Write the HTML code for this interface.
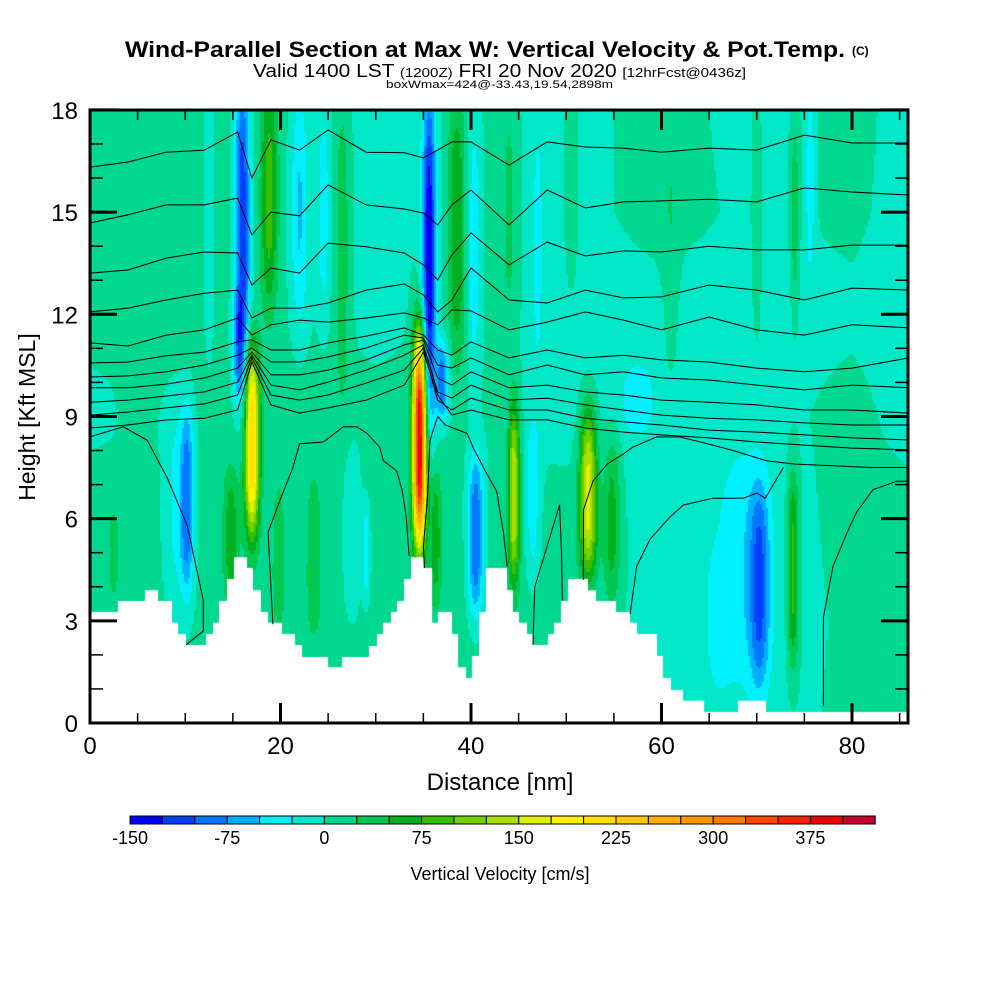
<!DOCTYPE html>
<html><head><meta charset="utf-8"><style>
html,body{margin:0;padding:0;background:#fff;width:1000px;height:1000px;overflow:hidden}
#wrap{position:relative;width:1000px;height:1000px}
canvas{position:absolute;left:90px;top:110px}
svg{position:absolute;left:0;top:0}
text{font-family:"Liberation Sans",sans-serif}
</style></head><body>
<div id="wrap">
<canvas id="field" width="818" height="613"></canvas>
<svg id="svg" width="1000" height="1000">
<text x="125" y="57" textLength="720" lengthAdjust="spacingAndGlyphs" font-size="22" font-weight="bold">Wind-Parallel Section at Max W: Vertical Velocity &amp; Pot.Temp.</text>
<text x="852" y="55" font-size="12" font-weight="bold">(C)</text>
<text x="253" y="77" textLength="493" lengthAdjust="spacingAndGlyphs" font-size="18">Valid 1400 LST <tspan font-size="13">(1200Z)</tspan> FRI 20 Nov 2020 <tspan font-size="13">[12hrFcst@0436z]</tspan></text>
<text x="386" y="88" textLength="227" lengthAdjust="spacingAndGlyphs" font-size="11">boxWmax=424@-33.43,19.54,2898m</text>
<g id="contours" fill="none" stroke="#000" stroke-width="1"></g>
<g id="ticks" stroke="#000"></g>
<rect x="90" y="110" width="818" height="613" fill="none" stroke="#000" stroke-width="3"/>
<g id="labels" font-size="24"></g>
<text x="500" y="790" font-size="24" text-anchor="middle">Distance [nm]</text>
<text transform="translate(35,417) rotate(-90)" font-size="23" text-anchor="middle">Height [Kft MSL]</text>
<g id="cbar"></g>
<text x="500" y="880" font-size="18" text-anchor="middle">Vertical Velocity [cm/s]</text>
</svg>
</div>
<script>
// ---- data ----
const baseX=[0,10,20,30,40,50,60,70,80,86];
const baseH=[18,15,12,9,6,3,0];
const baseV=[
[8,8,5,-8,5,-8,8,-8,8,-10],
[10,10,5,-5,5,-8,8,-5,5,-10],
[5,8,5,-5,5,-8,-8,-8,-5,-10],
[-5,5,10,5,5,-10,-10,-10,8,-10],
[10,5,10,10,5,10,-10,-15,8,10],
[10,5,15,10,10,15,-10,-15,5,10],
[10,5,10,10,10,10,-10,-10,5,10]];
const plumeX =[17.0,34.6,16.0,15.6,18.8,22.0,26.5,24.5,35.6,37.0,38.5,40.3,10.2,9.0,14.8,19.8,23.5,27.5,29,36.3,40.5,44.5,46.5,52.3,54.8,57.5,70.3,68.5,73.8,66,2.5,50.5,61,70,75.6,74,44,47,4,12.5];
const plumeW =[0.75,0.7,0.8,0.6,0.9,0.9,0.8,0.6,0.7,0.7,0.9,0.7,0.7,1.2,0.8,0.6,0.8,0.9,0.4,0.6,0.8,0.6,0.8,0.9,0.9,1.5,1.0,2.5,0.6,1.2,1.0,0.6,0.8,0.5,0.5,0.4,0.8,0.6,1,0.5];
const plumeHc=[8.3,8.3,14.5,11,15.5,15,14,15,13.5,10,14.5,14,6.5,6.5,5.5,5,5,5.5,5,5.5,5.5,6.8,6.5,6.8,6,9.5,4,4.5,4.5,3,5,16,14,15,16,15,15,14,13,15];
const plumeHw=[2.8,3.1,4.8,1.5,3.5,3.5,5,3,5,1.2,4,4,2.8,3,2,2,2.5,2.5,1.5,2,2.4,2.7,2.5,2.5,2.5,1,3,3.5,2.9,2,2,3,4,4,3,3,4,4,5,4];
const plumeV =[220,400,-125,-60,80,-55,40,-40,-150,-90,70,-45,-90,-35,60,35,30,-35,-50,60,-105,140,-45,160,60,-40,-85,-30,90,-25,20,30,20,20,-40,40,30,-30,10,-30];
const terrainX=[0,2.94,5.77,7.14,8.61,9.24,10.08,12.18,12.91,13.54,14.38,15.12,16.48,17.11,17.95,18.69,20.16,21.52,22.26,24.99,26.46,29.29,30.13,30.76,31.6,32.23,32.97,33.7,35.07,35.91,36.54,38.01,38.64,39.48,40.1,40.84,41.57,43.78,44.41,45.04,45.88,46.51,48.08,48.71,49.45,50.18,52.28,53.12,55.22,56.69,57.43,59.53,60.16,61.0,62.26,64.47,68.03,70.97];
const terrainH=[3.26,3.58,3.9,3.58,2.94,2.61,2.29,2.61,2.94,3.58,4.23,4.87,4.55,3.9,3.26,2.94,2.61,2.29,1.94,1.64,1.94,2.26,2.61,2.94,3.26,3.58,4.23,4.87,4.55,2.94,3.26,2.61,1.64,1.32,1.97,3.26,4.55,3.9,3.26,2.94,2.61,2.29,2.61,2.94,3.58,4.23,3.9,3.58,3.26,2.94,2.61,1.97,1.32,0.97,0.65,0.32,0.65,0.32];
const thetaX=[0,4,8,12,15.5,17,19,22,25,29,33,35,36.5,38,40,44,48,52,56,60,65,70,75,80,86];
const theta1=[16.32,16.47,16.76,16.82,17.35,16.0,17.12,16.82,17.41,16.76,16.74,16.59,16.82,17.06,17.06,16.38,17.06,16.91,16.88,16.76,16.88,16.82,17.26,17.03,17.03];
const theta2=[14.68,14.92,15.21,15.21,15.41,14.33,15.0,14.89,15.8,15.21,15.09,14.97,14.62,15.21,15.65,14.62,15.65,15.12,15.3,15.33,15.38,15.3,15.71,15.59,15.5];
const theta3=[13.21,13.3,13.65,13.83,13.8,12.86,13.36,13.21,14.09,13.98,13.8,13.45,13.01,13.74,14.39,13.45,14.12,13.71,13.86,13.83,14.0,13.89,13.89,14.03,14.03];
const theta4=[12.07,12.18,12.42,12.62,12.71,11.89,12.18,12.18,12.33,12.71,12.89,12.57,12.07,12.42,13.36,12.42,12.33,12.71,12.48,12.51,12.86,12.71,12.42,12.77,12.71];
const theta5=[11.16,11.07,11.39,11.54,11.89,11.39,11.69,11.83,11.77,11.89,12.04,11.89,11.69,12.13,12.1,11.54,11.77,12.07,11.83,11.54,11.92,11.54,11.39,11.69,11.6];
const theta6=[10.57,10.6,10.78,10.89,11.19,11.25,10.95,10.95,11.16,11.36,11.6,11.39,10.95,10.8,11.19,10.72,10.95,10.72,10.8,10.66,10.6,10.42,10.31,10.42,10.72];
const theta7=[10.16,10.19,10.31,10.51,10.8,11.01,10.6,10.6,10.75,11.01,11.39,11.3,10.51,10.42,10.72,10.22,10.51,10.22,10.31,10.13,10.07,9.92,9.78,9.92,9.84];
const theta8=[9.84,9.84,9.95,10.13,10.42,10.89,10.22,10.22,10.36,10.66,11.1,11.24,10.13,9.92,10.31,9.84,9.92,9.72,9.63,9.48,9.42,9.34,9.19,9.19,9.1];
const theta9=[9.42,9.48,9.6,9.72,10.01,10.8,9.92,9.78,10.01,10.36,10.8,11.1,9.72,9.54,9.92,9.48,9.54,9.34,9.19,9.04,8.95,8.9,8.81,8.75,8.75];
const theta10=[9.04,9.13,9.25,9.37,9.63,10.72,9.63,9.48,9.63,9.98,10.36,11.01,9.48,9.19,9.54,9.19,9.19,8.95,8.84,8.75,8.6,8.54,8.46,8.37,8.31];
const theta11=[8.66,8.75,8.9,8.95,9.19,10.6,9.34,9.1,9.25,9.48,9.92,10.89,9.63,9.04,9.19,8.9,8.9,8.66,8.54,8.46,8.37,8.25,8.16,8.07,8.02];
const lowA=[[0,8.4],[3.5,8.7],[6.0,8.3],[8.1,7.2],[10.2,5.8],[11.2,4.5],[11.9,3.6],[11.9,2.7],[10.1,2.3]];
const lowD=[[19.2,2.9],[18.7,5.6],[19.9,6.5],[21.3,7.5],[22.0,8.2],[24.5,8.25],[26.6,8.7],[28.0,8.7],[29.1,8.5],[30.4,8.1],[30.8,7.7],[32.2,7.4],[32.8,6.8],[33.2,6.05],[33.5,4.9]];
const lowE=[[35.1,4.55],[35.0,5.2],[35.4,6.5],[35.7,8.3],[36.5,9.0],[37.3,8.75],[39.6,8.5],[40.2,8.1],[41.5,7.4],[42.7,6.8],[43.4,5.6],[43.8,4.6]];
const lowH=[[56.7,3.2],[57.4,4.6],[58.8,5.4],[60.9,6.05],[62.3,6.4],[65.4,6.6],[68.6,6.6],[70.0,6.75],[70.9,6.6],[72.8,7.5]];
const lowL=[[51.8,4.2],[51.8,6.25],[52.8,7.1],[54.3,7.6],[56.0,7.9],[57.0,8.1],[59.5,8.4],[61.9,8.4],[64.8,8.2],[67.5,8.0],[71,7.7],[74,7.6],[78,7.55],[82,7.5],[85.9,7.5]];
const lowI=[[77.0,0.5],[77.0,3.1],[78.0,4.6],[79.5,5.6],[80.5,6.2],[82.2,6.85],[84.7,7.1],[85.9,7.1]];
const lowK=[[46.5,2.3],[46.7,4.0],[48.0,5.2],[49.3,6.4],[49.5,5.0],[49.6,3.6]];
const cbLabels=[-150,-75,0,75,150,225,300,375];
const colors=["#0000ff","#0040ff","#0078ff","#00b0ff","#00f0ff","#00e8c8","#00d890","#00c850","#00b020","#38c000","#70d000","#a8e000","#e0f000","#fff000","#ffe000","#ffc800","#ffb000","#ff9800","#ff7800","#ff4800","#ff2000","#f00000","#c80030"];
const xTicks=[0,20,40,60,80];
const yTicks=[0,3,6,9,12,15,18];

// ---- axes ----
const X0=90,X1=908,Y0=723,Y1=110;
const sx=v=>X0+v*9.525;
const sy=h=>Y0-h*34.06;
const NS="http://www.w3.org/2000/svg";
function mk(tag,attrs,parent){const e=document.createElementNS(NS,tag);for(const k in attrs)e.setAttribute(k,attrs[k]);parent.appendChild(e);return e;}

// ---- field ----
function base(x,h){
  let i=0;while(i<baseX.length-2&&x>baseX[i+1])i++;
  let j=0;while(j<baseH.length-2&&h<baseH[j+1])j++;
  const tx=Math.max(0,Math.min(1,(x-baseX[i])/(baseX[i+1]-baseX[i])));
  const ty=Math.max(0,Math.min(1,(baseH[j]-h)/(baseH[j]-baseH[j+1])));
  const a=baseV[j][i]*(1-tx)+baseV[j][i+1]*tx;
  const b=baseV[j+1][i]*(1-tx)+baseV[j+1][i+1]*tx;
  return a*(1-ty)+b*ty;
}
function vel(x,h){
  let v=base(x,h);
  for(let k=0;k<plumeX.length;k++){
    const dx=(x-plumeX[k])/plumeW[k];
    if(Math.abs(dx)>3)continue;
    const dh=Math.abs(h-plumeHc[k])/plumeHw[k];
    v+=plumeV[k]*Math.exp(-dx*dx)*Math.exp(-dh*dh*dh);
  }
  return v;
}
const ctx=document.getElementById('field').getContext('2d');
const step=2;
for(let px=0;px<818;px+=step){
  const x=(px+1)/9.525;
  for(let py=0;py<613;py+=step){
    const h=18-(py+1)/34.06;
    const v=vel(x,h);
    const idx=Math.max(0,Math.min(22,Math.floor((v+150)/25)));
    ctx.fillStyle=colors[idx];
    ctx.fillRect(px,py,step,step);
  }
}
// terrain (white)
ctx.fillStyle="#fff";
ctx.beginPath();
ctx.moveTo(0,613);
for(let i=0;i<terrainX.length;i++){
  const xa=sx(terrainX[i])-X0, xb=(i+1<terrainX.length?sx(terrainX[i+1]):X1+2)-X0;
  const y=sy(terrainH[i])-Y1;
  ctx.lineTo(xa,y);ctx.lineTo(xb,y);
}
ctx.lineTo(820,613);ctx.closePath();ctx.fill();

// ---- contours ----
const cg=document.getElementById('contours');
const thetas=[theta1,theta2,theta3,theta4,theta5,theta6,theta7,theta8,theta9,theta10,theta11];
thetas.forEach((arr,i)=>{
  const pts=arr.map((h,k)=>sx(thetaX[k]).toFixed(1)+","+sy(h).toFixed(1)).join(" ");
  const p=mk('polyline',{points:pts},cg);
  
  
});
[lowA,lowD,lowE,lowH,lowL,lowI,lowK].forEach((arr,i)=>{
  const pts=arr.map(q=>sx(q[0]).toFixed(1)+","+sy(q[1]).toFixed(1)).join(" ");
  const p=mk('polyline',{points:pts},cg);
  
  
});

// ---- ticks & labels ----
const tg=document.getElementById('ticks'), lg=document.getElementById('labels');
for(let v=0;v<=85;v+=5){
  const x=sx(v),len=(v%20===0)?20:10,w=(v%20===0)?3:1.5;
  let t=mk('line',{x1:x,x2:x,y1:Y0,y2:Y0-len,'stroke-width':w},tg);
  
  t=mk('line',{x1:x,x2:x,y1:Y1,y2:Y1+len,'stroke-width':w},tg);
  
}
for(let h=0;h<=18;h++){
  const y=sy(h),len=(h%3===0)?27:13,w=(h%3===0)?3:1.5;
  let t=mk('line',{x1:X0,x2:X0+len,y1:y,y2:y,'stroke-width':w},tg);
  
  t=mk('line',{x1:X1,x2:X1-len,y1:y,y2:y,'stroke-width':w},tg);
  
}
xTicks.forEach(v=>{
  const t=mk('text',{x:sx(v),y:754,'text-anchor':'middle'},lg);t.textContent=v;
  
});
yTicks.forEach(v=>{
  const t=mk('text',{x:78,y:sy(v)+9,'text-anchor':'end'},lg);t.textContent=v;
  
});

// ---- colorbar ----
const cb=document.getElementById('cbar');
const cbX=130,cbW=32.4;
colors.forEach((c,i)=>{
  const r=mk('rect',{x:cbX+i*cbW,y:816,width:cbW,height:8,fill:c,stroke:'#000','stroke-width':1},cb);
  
});
cbLabels.forEach(v=>{
  const t=mk('text',{x:cbX+(v+150)/25*cbW,y:844,'font-size':18,'text-anchor':'middle'},cb);
  t.textContent=v;
  
});
</script>
</body></html>
